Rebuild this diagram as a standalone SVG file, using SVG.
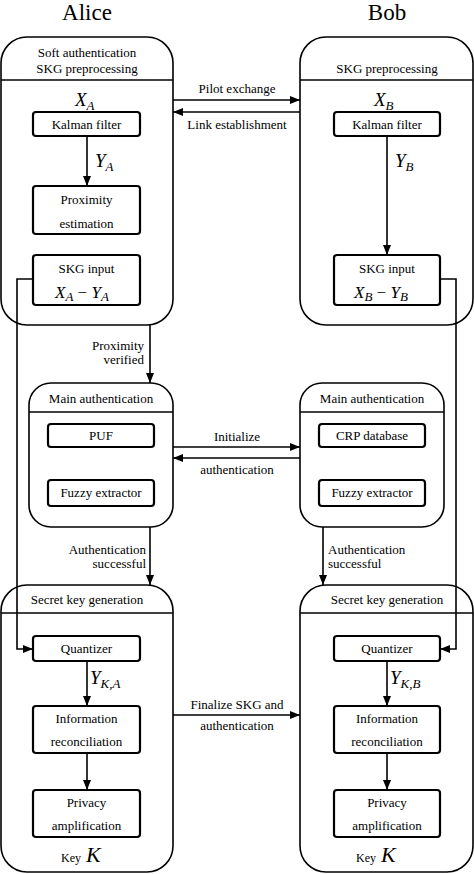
<svg xmlns="http://www.w3.org/2000/svg" width="474" height="874" viewBox="0 0 474 874">
<defs>
<marker id="ah" viewBox="0 0 10 8" refX="10" refY="4" markerWidth="10" markerHeight="8" markerUnits="userSpaceOnUse" orient="auto">
<path d="M0,0 L10,4 L0,8 Z" fill="#000"/>
</marker>
<style>
.cont{fill:none;stroke:#000;stroke-width:1.6}
.box{fill:#fff;stroke:#000;stroke-width:2.2}
.ln{fill:none;stroke:#000;stroke-width:1.6}
.arr{fill:none;stroke:#000;stroke-width:1.6;marker-end:url(#ah)}
text{font-family:"Liberation Serif","Times New Roman",serif;fill:#000}
.t{font-size:13px;text-anchor:middle}
.ti{font-size:23px;text-anchor:middle}
.m{font-size:19px;font-style:italic}
.s{font-size:13px;font-style:italic}
.k{font-size:12px}
.r{text-anchor:end}
.l{text-anchor:start}
</style>
</defs>
<text class="ti" x="87" y="20">Alice</text>
<text class="ti" x="387" y="20">Bob</text>

<g id="alice-soft">
<rect class="cont" x="1" y="37" width="172" height="288" rx="26"/>
<line class="ln" x1="1" y1="80" x2="173" y2="80"/>
<text class="t" x="87" y="57">Soft authentication</text>
<text class="t" x="87" y="73">SKG preprocessing</text>
<text class="m" x="75" y="106">X<tspan class="s" dy="4">A</tspan></text>
</g>
<g id="alice-kalman"><rect class="box" x="33" y="112" width="107" height="24" rx="3"/><text class="t" x="86.5" y="129">Kalman  filter</text></g>
<g id="alice-prox"><rect class="box" x="33" y="186" width="107" height="48" rx="3"/><text class="t" x="86.5" y="204">Proximity</text><text class="t" x="86.5" y="228">estimation</text></g>
<g id="alice-skginput"><rect class="box" x="33" y="255" width="107" height="50" rx="3"/><text class="t" x="86.5" y="273">SKG  input</text><text class="m" x="55" y="298" style="font-size:17px">X<tspan class="s" dy="3">A</tspan><tspan dy="-3" style="font-style:normal"> − </tspan>Y<tspan class="s" dy="3">A</tspan></text></g>

<g id="bob-pre">
<rect class="cont" x="300" y="37" width="173" height="288" rx="26"/>
<line class="ln" x1="300" y1="80" x2="473" y2="80"/>
<text class="t" x="387" y="73">SKG preprocessing</text>
<text class="m" x="374" y="106">X<tspan class="s" dy="4">B</tspan></text>
</g>
<g id="bob-kalman"><rect class="box" x="334" y="112" width="106" height="24" rx="3"/><text class="t" x="387" y="129">Kalman  filter</text></g>
<g id="bob-skginput"><rect class="box" x="334" y="255" width="106" height="50" rx="3"/><text class="t" x="387" y="273">SKG  input</text><text class="m" x="354" y="298" style="font-size:17px">X<tspan class="s" dy="3">B</tspan><tspan dy="-3" style="font-style:normal"> − </tspan>Y<tspan class="s" dy="3">B</tspan></text></g>

<g id="alice-main">
<rect class="cont" x="29" y="383" width="144" height="144" rx="22"/>
<line class="ln" x1="29" y1="412" x2="173" y2="412"/>
<text class="t" x="101" y="403">Main authentication</text>
</g>
<g id="alice-puf"><rect class="box" x="48" y="424" width="106" height="23" rx="3"/><text class="t" x="101" y="440">PUF</text></g>
<g id="alice-fuzzy"><rect class="box" x="48" y="480" width="106" height="26" rx="3"/><text class="t" x="101" y="497">Fuzzy  extractor</text></g>

<g id="bob-main">
<rect class="cont" x="300" y="383" width="144" height="144" rx="22"/>
<line class="ln" x1="300" y1="412" x2="444" y2="412"/>
<text class="t" x="372" y="403">Main authentication</text>
</g>
<g id="bob-crp"><rect class="box" x="319" y="424" width="106" height="23" rx="3"/><text class="t" x="372" y="440">CRP  database</text></g>
<g id="bob-fuzzy"><rect class="box" x="319" y="480" width="106" height="26" rx="3"/><text class="t" x="372" y="497">Fuzzy  extractor</text></g>

<g id="alice-skg">
<rect class="cont" x="1" y="585" width="172" height="287" rx="26"/>
<line class="ln" x1="1" y1="613" x2="173" y2="613"/>
<text class="t" x="87" y="604">Secret key generation</text>
<text class="k" x="61" y="862">Key</text>
<text class="m" x="86" y="862" style="font-size:22px">K</text>
</g>
<g id="alice-quant"><rect class="box" x="33" y="636" width="107" height="25" rx="3"/><text class="t" x="86.5" y="653">Quantizer</text></g>
<g id="alice-ir"><rect class="box" x="33" y="706" width="107" height="47" rx="3"/><text class="t" x="86.5" y="723">Information</text><text class="t" x="86.5" y="746">reconciliation</text></g>
<g id="alice-pa"><rect class="box" x="33" y="790" width="107" height="47" rx="3"/><text class="t" x="86.5" y="807">Privacy</text><text class="t" x="86.5" y="830">amplification</text></g>

<g id="bob-skg">
<rect class="cont" x="300" y="585" width="173" height="287" rx="26"/>
<line class="ln" x1="300" y1="613" x2="473" y2="613"/>
<text class="t" x="387" y="604">Secret key generation</text>
<text class="k" x="356" y="862">Key</text>
<text class="m" x="381" y="862" style="font-size:22px">K</text>
</g>
<g id="bob-quant"><rect class="box" x="334" y="636" width="106" height="25" rx="3"/><text class="t" x="387" y="653">Quantizer</text></g>
<g id="bob-ir"><rect class="box" x="334" y="706" width="106" height="47" rx="3"/><text class="t" x="387" y="723">Information</text><text class="t" x="387" y="746">reconciliation</text></g>
<g id="bob-pa"><rect class="box" x="334" y="790" width="106" height="47" rx="3"/><text class="t" x="387" y="807">Privacy</text><text class="t" x="387" y="830">amplification</text></g>

<g id="connectors">
<line class="arr" x1="87" y1="136" x2="87" y2="186"/>
<text class="m" x="95" y="167">Y<tspan class="s" dy="4">A</tspan></text>
<line class="arr" x1="387" y1="136" x2="387" y2="255"/>
<text class="m" x="395" y="167">Y<tspan class="s" dy="4">B</tspan></text>

<line class="arr" x1="173" y1="100" x2="300" y2="100"/>
<text class="t" x="237" y="93">Pilot exchange</text>
<line class="arr" x1="300" y1="112" x2="173" y2="112"/>
<text class="t" x="237" y="129">Link establishment</text>

<polyline class="arr" points="33,279 17,279 17,649 33,649"/>
<polyline class="arr" points="440,279 456,279 456,649 440,649"/>

<line class="arr" x1="150" y1="325" x2="150" y2="383"/>
<text class="t r" x="144" y="350">Proximity</text>
<text class="t r" x="144" y="364">verified</text>

<line class="arr" x1="173" y1="447" x2="300" y2="447"/>
<text class="t" x="237" y="441">Initialize</text>
<line class="arr" x1="300" y1="458" x2="173" y2="458"/>
<text class="t" x="237" y="474">authentication</text>

<line class="arr" x1="150" y1="527" x2="150" y2="585"/>
<text class="t r" x="146" y="554">Authentication</text>
<text class="t r" x="146" y="568">successful</text>
<line class="arr" x1="323" y1="527" x2="323" y2="585"/>
<text class="t l" x="328" y="554">Authentication</text>
<text class="t l" x="328" y="568">successful</text>

<line class="arr" x1="87" y1="661" x2="87" y2="706"/>
<text class="m" x="90" y="684">Y<tspan class="s" dy="4">K,A</tspan></text>
<line class="arr" x1="87" y1="753" x2="87" y2="790"/>
<line class="arr" x1="387" y1="661" x2="387" y2="706"/>
<text class="m" x="390" y="684">Y<tspan class="s" dy="4">K,B</tspan></text>
<line class="arr" x1="387" y1="753" x2="387" y2="790"/>

<line class="arr" x1="173" y1="715" x2="300" y2="715"/>
<text class="t" x="237" y="709">Finalize SKG and</text>
<text class="t" x="237" y="730">authentication</text>
</g>
</svg>
